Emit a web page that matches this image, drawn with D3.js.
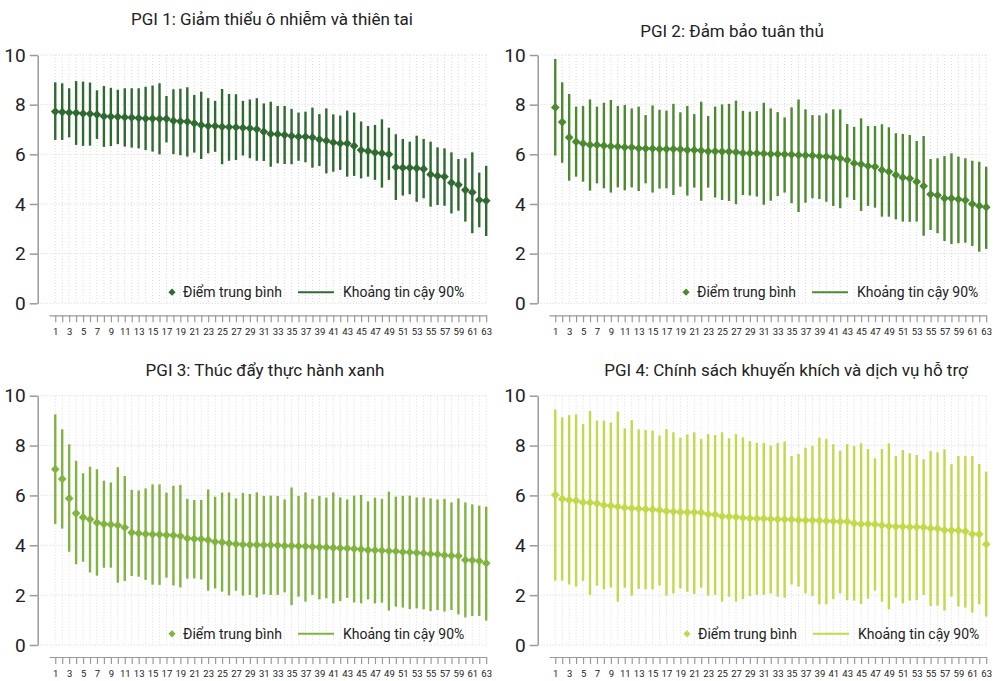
<!DOCTYPE html>
<html>
<head>
<meta charset="utf-8">
<script src="https://cdn.jsdelivr.net/npm/d3@7"></script>
<style>
  body { margin: 0; background: #fff; }
  svg text { font-family: Roboto, "Noto Sans", sans-serif; fill: #222; }
</style>
</head>
<body>
<script>
// 63 provinces, ranked by mean score within each PGI
const provinces = d3.range(1, 64);
const yTicks = [0, 2, 4, 6, 8, 10];

const titles = [
  "PGI 1: Giảm thiểu ô nhiễm và thiên tai",
  "PGI 2: Đảm bảo tuân thủ",
  "PGI 3: Thúc đẩy thực hành xanh",
  "PGI 4: Chính sách khuyến khích và dịch vụ hỗ trợ"
];
const legendLabels = ["Điểm trung bình", "Khoảng tin cậy 90%"];
const colors = ["#2f6b31", "#4b8a2f", "#80b441", "#c3d94a"];

const mean1 = [7.72,7.70,7.68,7.67,7.64,7.63,7.60,7.53,7.52,7.51,7.49,7.48,7.46,7.44,7.44,7.43,7.43,7.35,7.33,7.32,7.25,7.18,7.14,7.14,7.11,7.10,7.09,7.07,7.05,7.01,6.91,6.82,6.81,6.78,6.74,6.71,6.71,6.68,6.60,6.55,6.48,6.44,6.44,6.34,6.17,6.13,6.07,6.04,6.00,5.48,5.46,5.46,5.44,5.41,5.19,5.13,5.10,4.86,4.77,4.56,4.47,4.16,4.13];
const hi1 = [8.90,8.86,8.66,8.95,8.93,8.89,8.58,8.75,8.68,8.60,8.66,8.66,8.66,8.72,8.77,8.86,8.35,8.62,8.64,8.70,8.39,8.52,8.26,8.15,8.63,8.43,8.42,8.15,8.21,8.26,8.05,8.12,7.95,7.95,7.83,7.68,7.72,7.88,7.62,7.85,7.61,7.56,7.76,7.68,7.32,7.14,7.18,7.41,7.07,6.81,6.62,6.51,6.75,6.62,6.51,6.28,6.24,6.08,5.81,5.84,6.08,5.26,5.54];
const lo1 = [6.58,6.58,6.68,6.38,6.34,6.35,6.62,6.30,6.33,6.41,6.31,6.27,6.24,6.17,6.11,6.00,6.48,6.01,5.96,5.91,6.07,5.81,6.04,6.10,5.60,5.74,5.77,5.95,5.84,5.74,5.73,5.50,5.64,5.61,5.60,5.74,5.68,5.46,5.53,5.23,5.30,5.37,5.10,5.13,5.03,5.10,4.97,4.66,4.97,4.16,4.34,4.39,4.09,4.23,3.89,3.96,3.93,3.62,3.73,3.29,2.82,3.06,2.71];

const mean2 = [7.89,7.30,6.68,6.51,6.44,6.38,6.38,6.35,6.32,6.31,6.28,6.28,6.24,6.23,6.23,6.21,6.21,6.21,6.20,6.17,6.17,6.15,6.12,6.12,6.11,6.11,6.09,6.05,6.04,6.04,6.03,6.01,6.01,6.00,5.99,5.97,5.96,5.95,5.92,5.91,5.88,5.84,5.77,5.64,5.60,5.53,5.50,5.37,5.30,5.17,5.07,5.03,4.90,4.72,4.39,4.35,4.23,4.23,4.19,4.15,4.00,3.92,3.87];
const hi2 = [9.84,8.90,8.43,7.92,7.95,8.21,7.92,8.08,8.19,7.95,7.99,7.85,7.92,7.58,7.97,7.79,7.76,8.03,7.69,7.95,7.62,8.12,7.54,7.92,8.01,8.03,8.16,7.75,7.72,7.74,8.08,7.85,7.70,7.49,7.89,8.21,7.81,7.58,7.57,7.65,7.81,7.81,7.22,7.11,7.45,7.14,7.14,7.21,7.09,6.85,6.82,6.78,6.54,6.74,5.81,5.84,5.93,6.04,5.91,5.84,5.74,5.70,5.50];
const lo2 = [5.95,5.66,4.94,5.10,4.90,4.54,4.83,4.63,4.46,4.67,4.55,4.67,4.52,4.83,4.46,4.62,4.63,4.36,4.70,4.34,4.66,4.13,4.66,4.26,4.16,4.12,3.99,4.36,4.34,4.30,3.97,4.13,4.32,4.46,4.03,3.68,4.05,4.23,4.20,4.09,3.92,3.83,4.26,4.16,3.72,3.92,3.85,3.49,3.49,3.38,3.29,3.28,3.29,2.72,2.95,2.82,2.51,2.39,2.42,2.44,2.31,2.08,2.19];

const mean3 = [7.05,6.66,5.88,5.28,5.12,5.04,4.91,4.85,4.83,4.80,4.71,4.51,4.48,4.45,4.44,4.43,4.41,4.40,4.37,4.28,4.26,4.25,4.21,4.14,4.12,4.08,4.05,4.03,4.02,4.02,4.01,4.01,4.00,3.98,3.98,3.97,3.96,3.94,3.93,3.92,3.90,3.89,3.88,3.86,3.84,3.81,3.80,3.79,3.77,3.76,3.73,3.72,3.70,3.68,3.65,3.64,3.60,3.58,3.57,3.41,3.40,3.37,3.28];
const hi3 = [9.25,8.65,8.05,7.39,6.89,7.15,7.05,6.59,6.52,7.13,6.78,6.22,6.20,6.28,6.44,6.44,6.11,6.39,6.42,5.86,5.82,5.82,6.24,5.95,6.11,6.12,5.88,6.10,6.06,6.12,5.98,5.99,5.98,5.84,6.32,5.98,6.12,5.86,5.98,5.91,6.12,5.92,5.84,5.99,6.02,5.76,5.91,5.86,6.15,5.95,5.98,5.99,5.92,5.92,5.88,5.84,5.86,5.72,5.88,5.72,5.64,5.59,5.55];
const lo3 = [4.85,4.67,3.74,3.24,3.34,2.91,2.78,3.10,3.10,2.50,2.57,2.77,2.74,2.61,2.42,2.41,2.70,2.39,2.31,2.66,2.67,2.63,2.18,2.27,2.14,1.99,2.18,1.98,2.01,1.91,2.03,2.01,2.01,2.11,1.60,1.94,1.74,2.01,1.83,1.87,1.67,1.76,1.89,1.71,1.67,1.83,1.67,1.70,1.38,1.54,1.50,1.44,1.47,1.43,1.36,1.40,1.34,1.40,1.23,1.11,1.16,1.16,0.98];

const mean4 = [6.02,5.86,5.82,5.79,5.72,5.71,5.68,5.61,5.59,5.55,5.51,5.49,5.47,5.45,5.44,5.41,5.37,5.35,5.33,5.32,5.32,5.31,5.24,5.23,5.16,5.15,5.13,5.10,5.08,5.07,5.07,5.05,5.04,5.04,5.03,5.01,5.00,5.00,4.99,4.97,4.96,4.95,4.95,4.88,4.85,4.85,4.84,4.80,4.77,4.75,4.75,4.73,4.73,4.72,4.68,4.67,4.61,4.60,4.59,4.56,4.45,4.44,4.04];
const hi4 = [9.45,9.13,9.22,9.25,8.86,9.39,9.00,9.00,8.92,9.36,8.69,9.02,8.65,8.62,8.60,8.40,8.66,8.53,8.32,8.45,8.53,8.26,8.46,8.42,8.53,8.29,8.46,8.33,8.18,8.11,8.11,7.99,8.11,8.16,7.58,7.66,7.91,7.98,8.32,8.26,8.05,7.79,8.06,7.98,8.09,7.86,7.49,7.86,8.09,7.58,7.82,7.69,7.62,7.45,7.78,7.73,7.85,7.25,7.58,7.59,7.58,7.26,6.95];
const lo4 = [2.58,2.58,2.43,2.34,2.57,2.01,2.38,2.23,2.31,1.74,2.30,1.98,2.25,2.23,2.23,2.38,1.98,2.07,2.26,2.14,2.05,2.30,1.98,2.01,1.74,1.94,1.74,1.84,1.97,2.01,2.01,2.07,1.94,1.90,2.43,2.34,2.07,1.97,1.63,1.63,1.84,2.07,1.80,1.78,1.64,1.86,2.18,1.74,1.43,1.90,1.67,1.78,1.80,2.01,1.56,1.58,1.38,1.94,1.54,1.50,1.30,1.63,1.14];

const means = [mean1, mean2, mean3, mean4];
const highs = [hi1, hi2, hi3, hi4];
const lows = [lo1, lo2, lo3, lo4];

// panel layout: left axis x, top of plot (y=10), bottom (y=0)
const panels = [
  { left: 37.7, top: 55, bottom: 303.3, titleX: 272, titleY: 25, legX: 172 },
  { left: 537.7, top: 55, bottom: 303.3, titleX: 732, titleY: 37, legX: 686 },
  { left: 37.7, top: 395.7, bottom: 645, titleX: 265, titleY: 376, legX: 172 },
  { left: 537.7, top: 395.7, bottom: 645, titleX: 786, titleY: 376, legX: 687 }
];

const w = 996, h = 681;
const svg = d3.select("body").append("svg")
  .attr("width", w)
  .attr("height", h);

panels.forEach((p, k) => {
  const color = colors[k];
  const g = svg.append("g");

  const x = d3.scaleLinear()
    .domain([0.1, 63])
    .range([p.left + 11.3, p.left + 448.5]);
  const y = d3.scaleLinear()
    .domain([0, 10])
    .range([p.bottom, p.top]);

  // dotted grid
  g.selectAll(".hgrid")
    .data(yTicks)
    .enter()
    .append("line")
    .attr("x1", p.left)
    .attr("x2", x(63))
    .attr("y1", d => y(d))
    .attr("y2", d => y(d))
    .attr("stroke", "#d4d4d4")
    .attr("stroke-dasharray", "1,2");
  g.selectAll(".vgrid")
    .data(provinces)
    .enter()
    .append("line")
    .attr("x1", d => x(d))
    .attr("x2", d => x(d))
    .attr("y1", y(10))
    .attr("y2", y(0))
    .attr("stroke", "#dcdcdc")
    .attr("stroke-dasharray", "1,2");

  // y axis
  const yAxis = d3.axisLeft(y)
    .tickValues(yTicks)
    .tickSize(8)
    .tickSizeOuter(0)
    .tickPadding(4);
  const ya = g.append("g")
    .attr("transform", "translate(" + p.left + ",0)")
    .call(yAxis);
  ya.select(".domain").attr("stroke", "#9a9a9a").attr("stroke-width", 1.5);
  ya.selectAll(".tick line").attr("stroke", "#9a9a9a").attr("stroke-width", 1.5);
  ya.selectAll(".tick text")
    .style("font-family", "Roboto, sans-serif")
    .style("font-size", "19px")
    .attr("fill", "#222");

  // x axis
  const xAxis = d3.axisBottom(x)
    .tickValues(provinces)
    .tickSize(7)
    .tickSizeOuter(0)
    .tickPadding(6)
    .tickFormat(d => d % 2 ? d : "");
  const xa = g.append("g")
    .attr("transform", "translate(0," + (p.bottom + 12) + ")")
    .call(xAxis);
  xa.select(".domain").attr("stroke", "#9a9a9a").attr("stroke-width", 1.2);
  xa.selectAll(".tick line").attr("stroke", "#9a9a9a").attr("stroke-width", 1.2);
  xa.selectAll(".tick text")
    .style("font-family", "Roboto, sans-serif")
    .style("font-size", "9.5px")
    .attr("fill", "#333");

  // confidence intervals
  g.selectAll(".ci")
    .data(provinces)
    .enter()
    .append("line")
    .attr("x1", d => x(d))
    .attr("x2", d => x(d))
    .attr("y1", (d, i) => y(lows[k][i]))
    .attr("y2", (d, i) => y(highs[k][i]))
    .attr("stroke", color)
    .attr("stroke-width", 2.4);

  // means
  const diamond = d3.symbol().type(d3.symbolSquare).size(38);
  g.selectAll(".mean")
    .data(provinces)
    .enter()
    .append("path")
    .attr("d", diamond)
    .attr("transform", (d, i) => "translate(" + x(d) + "," + y(means[k][i]) + ") rotate(45)")
    .attr("fill", color);

  // title
  svg.append("text")
    .attr("x", p.titleX)
    .attr("y", p.titleY)
    .attr("text-anchor", "middle")
    .style("font-size", "17px")
    .text(titles[k]);

  // legend
  const ly = y(0.45);
  g.append("path")
    .attr("d", d3.symbol().type(d3.symbolSquare).size(26))
    .attr("transform", "translate(" + p.legX + "," + ly + ") rotate(45)")
    .attr("fill", color);
  g.append("text")
    .attr("x", p.legX + 11)
    .attr("y", ly + 5)
    .style("font-size", "14px")
    .text(legendLabels[0]);
  g.append("line")
    .attr("x1", p.legX + 126)
    .attr("x2", p.legX + 162)
    .attr("y1", ly)
    .attr("y2", ly)
    .attr("stroke", color)
    .attr("stroke-width", 2);
  g.append("text")
    .attr("x", p.legX + 171)
    .attr("y", ly + 5)
    .style("font-size", "14px")
    .text(legendLabels[1]);
});
</script>
</body>
</html>
